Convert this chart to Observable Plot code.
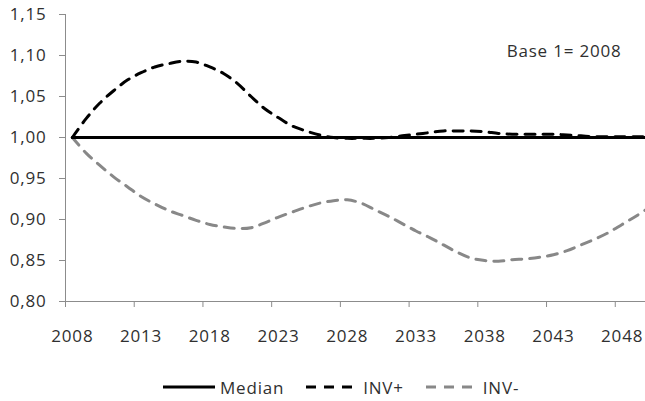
<!DOCTYPE html>
<html>
<head>
<meta charset="utf-8">
<script src="https://cdn.jsdelivr.net/npm/d3@7"></script>
<script src="https://cdn.jsdelivr.net/npm/@observablehq/plot@0.6"></script>
<style>
  html, body { margin: 0; padding: 0; background: #fff; }
  #legend { display: flex; align-items: center; height: 28px; padding-top: 13px; padding-left: 163px;
    font-family: "Open Sans", sans-serif; font-size: 17px; letter-spacing: 0.8px; color: #303030; }
  #legend .item { display: flex; align-items: center; margin-right: 22px; }
  #legend svg { display: block; margin-right: 5px; }
</style>
</head>
<body>
<div id="chart"></div>
<div id="legend"></div>
<script>
const years = [2008,2009,2010,2011,2012,2013,2014,2015,2016,2017,2018,2019,2020,2021,2022,2023,2024,2025,2026,2027,2028,2029,2030,2031,2032,2033,2034,2035,2036,2037,2038,2039,2040,2041,2042,2043,2044,2045,2046,2047,2048,2049,2050];
const median = [1,1,1,1,1,1,1,1,1,1,1,1,1,1,1,1,1,1,1,1,1,1,1,1,1,1,1,1,1,1,1,1,1,1,1,1,1,1,1,1,1,1,1];
const invPlus = [1.000,1.023,1.042,1.057,1.070,1.079,1.086,1.090,1.093,1.092,1.086,1.078,1.066,1.050,1.035,1.024,1.014,1.008,1.003,1.000,0.999,0.999,0.999,1.000,1.002,1.004,1.006,1.008,1.008,1.008,1.007,1.005,1.004,1.004,1.004,1.004,1.003,1.002,1.001,1.001,1.001,1.001,1.001];
const invMinus = [1.000,0.981,0.966,0.952,0.940,0.928,0.919,0.911,0.905,0.899,0.894,0.891,0.889,0.890,0.896,0.903,0.909,0.915,0.920,0.923,0.924,0.920,0.912,0.904,0.895,0.886,0.878,0.869,0.860,0.853,0.850,0.849,0.851,0.852,0.854,0.857,0.862,0.869,0.876,0.884,0.894,0.904,0.915];
const seriesNames = ["Median", "INV+", "INV-"];
const xTickLabels = [2008,2013,2018,2023,2028,2033,2038,2043,2048];
const xTickBounds = [2007.5,2012.5,2017.5,2022.5,2027.5,2032.5,2037.5,2042.5,2047.5];
const yTicks = [0.80,0.85,0.90,0.95,1.00,1.05,1.10,1.15];
const note = "Base 1= 2008";

const styles = {
  "Median": {stroke: "#000000", dash: null},
  "INV+": {stroke: "#000000", dash: "10,8"},
  "INV-": {stroke: "#888888", dash: "10,8"}
};
const seriesValues = {"Median": median, "INV+": invPlus, "INV-": invMinus};
const rows = (name) => years.map((y, i) => ({year: y, value: seriesValues[name][i]}));

const axisGray = "#8c8c8c";
const textCol = "#303030";
const fmt = v => d3.format(".2f")(v).replace(".", ",");

const lineMarks = ["INV-", "INV+", "Median"].map(name =>
  Plot.line(rows(name), {
    x: "year", y: "value", curve: "catmull-rom",
    stroke: styles[name].stroke, strokeWidth: 3,
    strokeDasharray: styles[name].dash, clip: true
  })
);

const chart = Plot.plot({
  width: 645, height: 360,
  marginLeft: 65, marginRight: 0, marginTop: 14, marginBottom: 59,
  style: {fontFamily: "'Open Sans', sans-serif", fontSize: "17px", letterSpacing: "0.8px", color: textCol, background: "#fff"},
  x: {domain: [2007.5, 2049.7]},
  y: {domain: [0.80, 1.15]},
  marks: [
    Plot.ruleY([0.80], {stroke: axisGray}),
    Plot.ruleX([2007.5], {stroke: axisGray}),
    Plot.axisY({ticks: yTicks, tickFormat: fmt, tickSize: 6, tickPadding: 13, stroke: axisGray, fill: textCol, label: null}),
    Plot.axisX({ticks: xTickBounds, tickFormat: () => "", tickSize: 6, stroke: axisGray, label: null}),
    Plot.axisX({ticks: xTickLabels, tickFormat: d => String(d), tickSize: 0, tickPadding: 28, fill: textCol, label: null}),
    ...lineMarks,
    Plot.text([note], {frameAnchor: "top-right", lineAnchor: "middle", dx: -24, dy: 37, fill: textCol})
  ]
});
document.getElementById("chart").appendChild(chart);

const legend = document.getElementById("legend");
for (const name of seriesNames) {
  const item = document.createElement("div");
  item.className = "item";
  const s = styles[name];
  item.innerHTML = `<svg width="52" height="10"><line x1="0" y1="5" x2="52" y2="5" stroke="${s.stroke}" stroke-width="3" ${s.dash ? `stroke-dasharray="${s.dash}"` : ""}/></svg><span>${name}</span>`;
  legend.appendChild(item);
}
</script>
</body>
</html>
